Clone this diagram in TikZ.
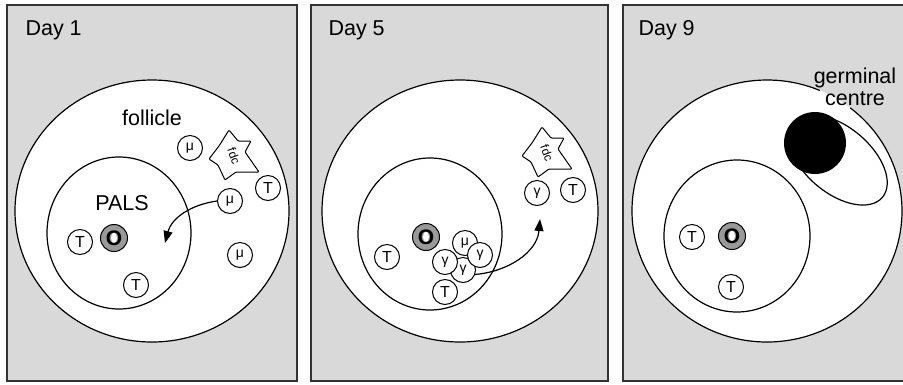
\documentclass[tikz,border=0pt]{standalone}
\usepackage{fontspec}
\setmainfont{Liberation Sans}
\usetikzlibrary{arrows.meta}

\begin{document}
\begin{tikzpicture}[
    x=1pt, y=-1pt,
    font=\fontsize{21.5}{21.5}\selectfont,
    panel/.style={draw=black!80, line width=1.5pt, fill=black!15},
    zone/.style={draw, line width=1.2pt, fill=white},
    cell/.style={circle, draw, line width=1pt, fill=white, minimum size=25pt, inner sep=0pt, font=\fontsize{16}{16}\selectfont},
    bcell/.style={cell, font=\fontsize{14}{14}\selectfont},
    ring/.style={circle, draw, line width=1pt, fill=black!40, minimum size=27pt, inner sep=0pt,
      font=\fontsize{21}{21}\selectfont\bfseries,
      path picture={\fill[white] (path picture bounding box.center) ellipse[x radius=3pt, y radius=5.5pt];}},
    arr/.style={-{Triangle[length=12pt,width=9pt]}, line width=1.2pt},
    fdc/.pic={
      \draw[line width=1pt, fill=white, rounded corners=1pt] (-25,4) -- (-15,-9) -- (-5,-25) -- (4,-14) -- (17,-14) -- (11,-3)
        -- (25,17) -- (2,17) -- (-9,25) -- (-16,10) -- cycle;
      \node[rotate=-70, inner sep=0pt, font=\fontsize{12}{12}\selectfont] at (0,1) {fdc};
    }
  ]
  \useasboundingbox (0,0) rectangle (903,384);

  % day 1
  \draw[panel] (7,5) rectangle (297,381);
  \node[anchor=base west] (d1) at (22,35) {Day 1};
  \draw[zone] (152,211) ellipse[x radius=137, y radius=131];
  \draw[zone] (119,233) ellipse[x radius=72, y radius=76];
  \node (fol) at (152,118) {follicle};
  \node (pals) at (122,203) {PALS};
  \node[ring] (o1) at (114,238) {O};
  \node[cell] (t1a) at (80,242) {T};
  \node[cell] (t1b) at (136,285) {T};
  \pic at (234,155) {fdc};
  \node[cell] (t1c) at (268,188) {T};
  \node[bcell] (m1a) at (190,148) {μ};
  \node[bcell] (m1b) at (230,201) {μ};
  \node[bcell] (m1c) at (240,255) {μ};
  \coordinate (a1) at (165,243);
  \draw[arr] (m1b.west) to[out=188, in=75] (a1);

  % day 5
  \draw[panel] (311,5) rectangle (608,381);
  \node[anchor=base west] (d5) at (325,35) {Day 5};
  \draw[zone] (460,211) ellipse[x radius=138, y radius=131];
  \draw[zone] (430,234) ellipse[x radius=72, y radius=76];
  \node[ring] (o5) at (426,237) {O};
  \node[cell] (t5a) at (387,257) {T};
  \node[bcell] (g5c) at (463,270) {γ};
  \node[bcell] (m5) at (465,243) {μ};
  \node[cell] (t5b) at (445,292) {T};
  \node[bcell] (g5a) at (445,262) {γ};
  \node[bcell] (g5b) at (480,255) {γ};
  \pic at (547,152) {fdc};
  \node[bcell] (g5d) at (537,193) {γ};
  \node[cell] (t5c) at (573,190) {T};
  \coordinate (a5) at (540,219);
  \draw[arr] (g5c.-20) to[out=5, in=-95] (a5);

  % day 9
  \draw[panel] (623,5) rectangle (906,381);
  \node[anchor=base west] (d9) at (635,35) {Day 9};
  \fill[white] (767,211) ellipse[x radius=135, y radius=131];
  \draw[line width=1.2pt] (767,211) ++(-52:135 and 131)
    arc[start angle=-52, end angle=293, x radius=135, y radius=131];
  \draw[zone] (737,236) ellipse[x radius=73, y radius=76];
  \draw[line width=1.2pt, rotate around={-40:(838,160)}] (838,160) ellipse[x radius=58, y radius=33];
  \fill (815,143) circle[radius=31];
  \node[align=center] (gc) at (855,87) {germinal\\centre};
  \node[cell] (t9a) at (692,237) {T};
  \node[ring] (o9) at (732,236) {O};
  \node[cell] (t9b) at (731,287) {T};
\end{tikzpicture}
\end{document}
